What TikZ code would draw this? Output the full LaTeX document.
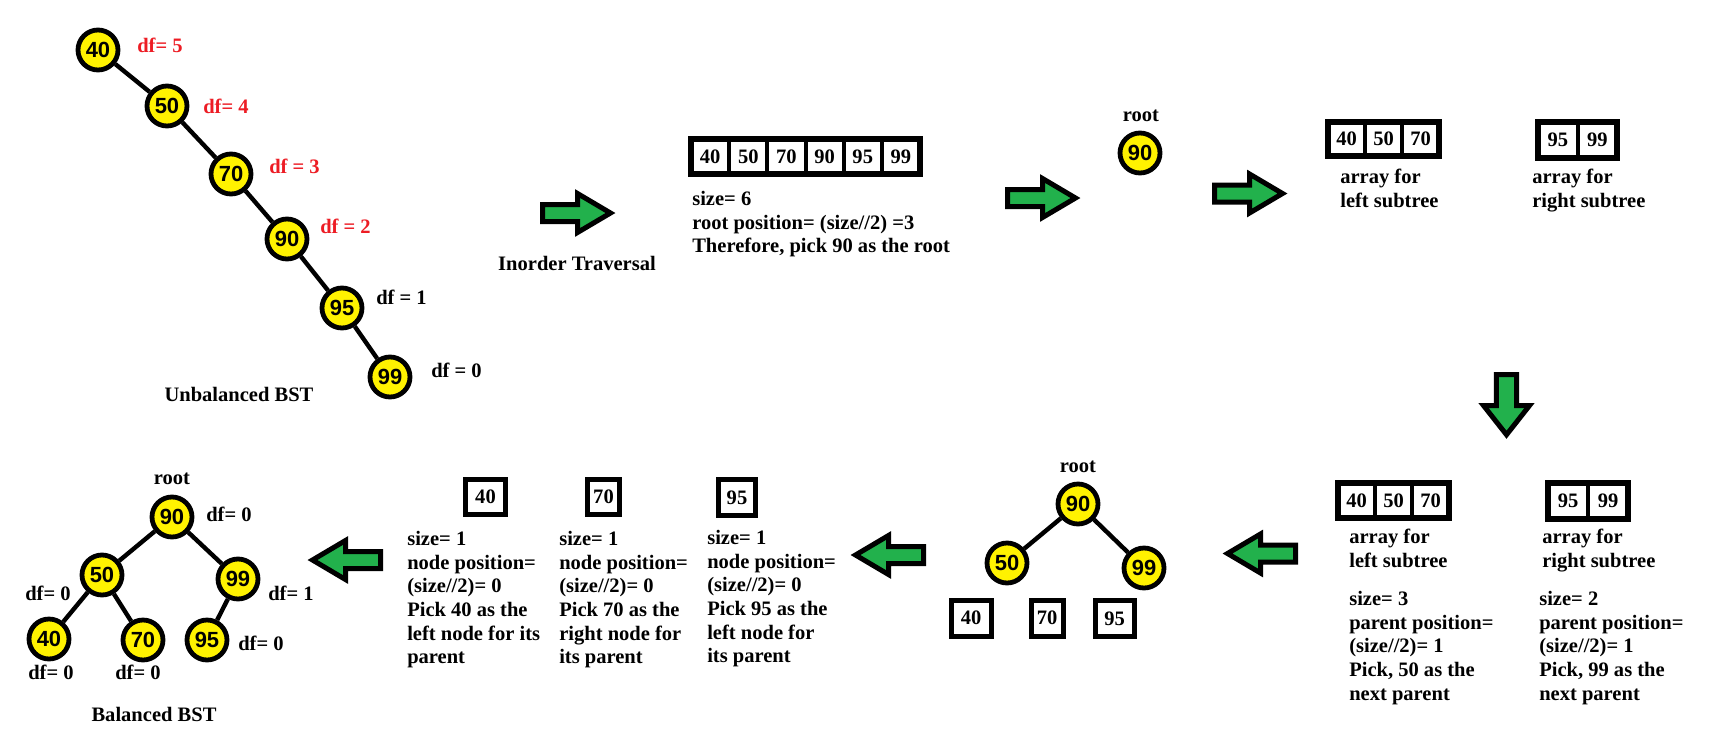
\documentclass[tikz,border=0pt]{standalone}
\usepackage{fontspec}
\setmainfont{Liberation Serif}
\newfontfamily\numfont{Liberation Sans}
\usepackage{tikz}
\usetikzlibrary{positioning}
\definecolor{paintYellow}{RGB}{255, 242, 0}
\definecolor{paintGreen}{RGB}{34, 177, 76}
\definecolor{paintRed}{RGB}{237, 28, 36}
\tikzstyle{treenode} = [circle, draw=black, line width=1.2mm, fill=paintYellow, minimum size=10mm, inner sep=0pt, font=\numfont\bfseries\fontsize{15.6pt}{16pt}\selectfont]
\tikzstyle{treeedge} = [line width=1.1mm]
\tikzstyle{txt} = [inner sep=0pt, align=left, font=\bfseries\fontsize{14.6pt}{16.8pt}\selectfont]
\tikzstyle{dflabel} = [txt, anchor=west]
\tikzstyle{cellbox} = [rectangle, draw=black, fill=white, line width=1mm, inner sep=0pt, outer sep=0pt, minimum height=8.75mm, font=\bfseries\fontsize{14.6pt}{16pt}\selectfont]
\tikzstyle{arrayframe} = [line width=1.5mm]
\tikzstyle{greenarrow} = [draw=black, fill=paintGreen, line width=1.25mm, line join=miter]
\tikzset{blockarrow/.pic={\draw [greenarrow] (0,-8.5) -- (35,-8.5) -- (35,-19.5) -- (68,0) -- (35,19.5) -- (35,8.5) -- (0,8.5) -- cycle;}}

\begin{document}
\begin{tikzpicture}[x=0.25mm, y=-0.25mm]

\fill [white] (0,0) rectangle (1727,733);
\useasboundingbox (0,0) rectangle (1727,733);

% unbalanced tree
\node (t40) [treenode] at (98,50) {40};
\node (t50) [treenode] at (167,106) {50};
\node (t70) [treenode] at (231,174) {70};
\node (t90) [treenode] at (287,239) {90};
\node (t95) [treenode] at (342,308) {95};
\node (t99) [treenode] at (390,377) {99};
\draw [treeedge] (t40) -- (t50);
\draw [treeedge] (t50) -- (t70);
\draw [treeedge] (t70) -- (t90);
\draw [treeedge] (t90) -- (t95);
\draw [treeedge] (t95) -- (t99);

\node (df40) [dflabel, text=paintRed] at (137,45) {df= 5};
\node (df50) [dflabel, text=paintRed] at (203,106) {df= 4};
\node (df70) [dflabel, text=paintRed] at (269,166) {df = 3};
\node (df90) [dflabel, text=paintRed] at (320,226) {df = 2};
\node (df95) [dflabel] at (376,297) {df = 1};
\node (df99) [dflabel] at (431,370) {df = 0};
\node (unbal) [txt] at (239,394) {Unbalanced BST};

% inorder array
\pic at (542.5,213) {blockarrow};
\node (inorder) [txt] at (577,263) {Inorder Traversal};

\node (a1) [cellbox, minimum width=9.54mm] at (710.1,156.5) {40};
\node (a2) [cellbox, minimum width=9.54mm, anchor=west] at(a1.east) {50};
\node (a3) [cellbox, minimum width=9.54mm, anchor=west] at(a2.east) {70};
\node (a4) [cellbox, minimum width=9.54mm, anchor=west] at(a3.east) {90};
\node (a5) [cellbox, minimum width=9.54mm, anchor=west] at(a4.east) {95};
\node (a6) [cellbox, minimum width=9.54mm, anchor=west] at(a5.east) {99};
\draw [arrayframe] (a1.north west) rectangle (a6.south east);
\node (atxt) [txt, anchor=north west] at (692,191) {size= 6\\root position= (size//2) =3\\Therefore, pick 90 as the root};

% root
\pic at (1007.5,198) {blockarrow};
\node (r90) [treenode] at (1140,153) {90};
\node (rlabel) [txt] at (1141,116) {root};
\pic at (1214.5,193.5) {blockarrow};

% split arrays
\node (la1) [cellbox, minimum width=9.25mm, minimum height=8.5mm] at (1346.5,139) {40};
\node (la2) [cellbox, minimum width=9.25mm, minimum height=8.5mm, anchor=west] at(la1.east) {50};
\node (la3) [cellbox, minimum width=9.25mm, minimum height=8.5mm, anchor=west] at(la2.east) {70};
\draw [arrayframe] (la1.north west) rectangle (la3.south east);
\node (ra1) [cellbox, minimum width=9.875mm, minimum height=9mm] at (1557.75,140) {95};
\node (ra2) [cellbox, minimum width=9.875mm, minimum height=9mm, anchor=west] at(ra1.east) {99};
\draw [arrayframe] (ra1.north west) rectangle (ra2.south east);
\node (latxt) [txt, anchor=north west] at (1340,169) {array for\\left subtree};
\node (ratxt) [txt, anchor=north west] at (1532,169) {array for\\right subtree};

\pic [rotate=-90, xscale=0.886, yscale=1.18] at (1506.5,374.5) {blockarrow};

% parents
\node (lb1) [cellbox, minimum width=9.25mm] at (1356.5,500.5) {40};
\node (lb2) [cellbox, minimum width=9.25mm, anchor=west] at(lb1.east) {50};
\node (lb3) [cellbox, minimum width=9.25mm, anchor=west] at(lb2.east) {70};
\draw [arrayframe] (lb1.north west) rectangle (lb3.south east);
\node (rb1) [cellbox, minimum width=10mm, minimum height=9mm] at (1568,501) {95};
\node (rb2) [cellbox, minimum width=10mm, minimum height=9mm, anchor=west] at(rb1.east) {99};
\draw [arrayframe] (rb1.north west) rectangle (rb2.south east);
\node (lbtxt) [txt, anchor=north west] at (1349,529) {array for\\left subtree};
\node (rbtxt) [txt, anchor=north west] at (1542,529) {array for\\right subtree};
\node (lbsize) [txt, anchor=north west] at (1349,591) {size= 3\\parent position=\\(size//2)= 1\\Pick, 50 as the\\next parent};
\node (rbsize) [txt, anchor=north west] at (1539,591) {size= 2\\parent position=\\(size//2)= 1\\Pick, 99 as the\\next parent};

\pic [rotate=180] at (1295.5,553.5) {blockarrow};

% partial tree
\node (m90) [treenode] at (1078,504) {90};
\node (m50) [treenode] at (1007,563) {50};
\node (m99) [treenode] at (1144,568) {99};
\node (mroot) [txt] at (1078,467) {root};
\draw [treeedge] (m90) -- (m50);
\draw [treeedge] (m90) -- (m99);
\node (m40) [cellbox, line width=1.25mm, minimum width=10mm, minimum height=9mm] at (971,618) {40};
\node (m70) [cellbox, line width=1.25mm, minimum width=8mm, minimum height=9mm] at (1047,618) {70};
\node (m95) [cellbox, line width=1.25mm, minimum width=9.75mm, minimum height=9mm] at (1114.5,618.5) {95};

\pic [rotate=180] at (923.5,555) {blockarrow};

% leaves
\node (s40) [cellbox, line width=1.25mm, minimum width=10mm] at (485.5,497) {40};
\node (s70) [cellbox, line width=1.25mm, minimum width=8mm] at (603.5,497) {70};
\node (s95) [cellbox, line width=1.25mm, minimum width=9.25mm, minimum height=9mm] at (737,497.5) {95};
\node (s40txt) [txt, anchor=north west] at (407,531) {size= 1\\node position=\\(size//2)= 0\\Pick 40 as the\\left node for its\\parent};
\node (s70txt) [txt, anchor=north west] at (559,531) {size= 1\\node position=\\(size//2)= 0\\Pick 70 as the\\right node for\\its parent};
\node (s95txt) [txt, anchor=north west] at (707,530) {size= 1\\node position=\\(size//2)= 0\\Pick 95 as the\\left node for\\its parent};

\pic [rotate=180] at (380.5,560) {blockarrow};

% balanced tree
\node (b90) [treenode] at (172,517) {90};
\node (b50) [treenode] at (102,575) {50};
\node (b99) [treenode] at (238,579) {99};
\node (b40) [treenode] at (49,639) {40};
\node (b70) [treenode] at (143,640) {70};
\node (b95) [treenode] at (207,640) {95};
\draw [treeedge] (b90) -- (b50);
\draw [treeedge] (b90) -- (b99);
\draw [treeedge] (b50) -- (b40);
\draw [treeedge] (b50) -- (b70);
\draw [treeedge] (b99) -- (b95);
\node (broot) [txt] at (172,479) {root};
\node (dfb90) [dflabel] at (206,514) {df= 0};
\node (dfb50) [dflabel] at (25,593) {df= 0};
\node (dfb99) [dflabel] at (268,593) {df= 1};
\node (dfb95) [dflabel] at (238,643) {df= 0};
\node (dfb40) [dflabel] at (28,672) {df= 0};
\node (dfb70) [dflabel] at (115,672) {df= 0};
\node (bal) [txt] at (154,714) {Balanced BST};

\end{tikzpicture}
\end{document}
